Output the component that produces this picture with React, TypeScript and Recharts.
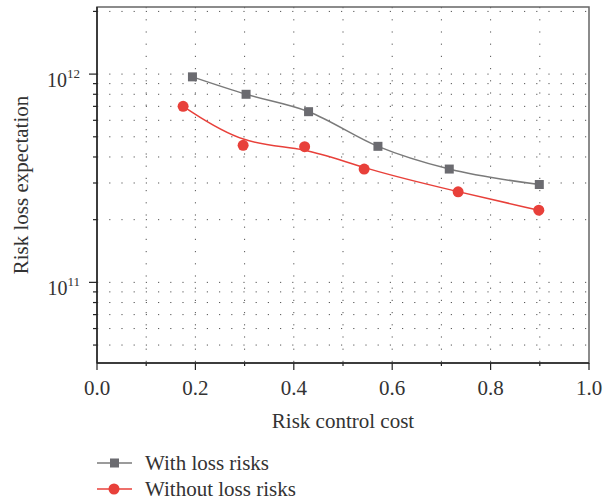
import React from "react";
import {
  LineChart,
  Line,
  XAxis,
  YAxis,
  CartesianGrid,
  Legend,
  ReferenceArea,
  Label,
} from "recharts";

const costWith = [0.194, 0.303, 0.43, 0.571, 0.716, 0.899];
const lossWith = [9.7e11, 8.0e11, 6.6e11, 4.5e11, 3.5e11, 2.95e11];
const costWithout = [0.175, 0.297, 0.422, 0.543, 0.734, 0.898];
const lossWithout = [7.0e11, 4.55e11, 4.48e11, 3.5e11, 2.72e11, 2.22e11];

const xTicks = [0, 0.1, 0.2, 0.3, 0.4, 0.5, 0.6, 0.7, 0.8, 0.9, 1.0];
const yTicks = [
  5e10, 6e10, 7e10, 8e10, 9e10, 1e11, 2e11, 3e11, 4e11, 5e11, 6e11, 7e11, 8e11,
  9e11, 1e12, 2e12,
];
const yDomain = [4.1e10, 2.1e12];

const withData = costWith.map((x, i) => ({ x, y: lossWith[i] }));
const withoutData = costWithout.map((x, i) => ({ x, y: lossWithout[i] }));

const FONT = "'Liberation Serif', 'Times New Roman', serif";
const GRAY = "#6b6b70";
const GRAY_LINE = "#7a7a7a";
const RED = "#e8403a";

const XTick = (props: any) => {
  const { x, y, payload } = props;
  const v = payload.value;
  const major = Math.abs(v * 5 - Math.round(v * 5)) < 1e-6;
  return (
    <g>
      <line x1={x} x2={x} y1={y} y2={y + (major ? 7 : 3)} stroke="#222" strokeWidth={1.2} />
      {major && (
        <text x={x} y={y + 32} textAnchor="middle" fontFamily={FONT} fontSize={21} fill="#333">
          {v.toFixed(1)}
        </text>
      )}
    </g>
  );
};

const YTick = (props: any) => {
  const { x, y, payload } = props;
  const v = payload.value;
  const exp = Math.log10(v);
  const major = Math.abs(exp - Math.round(exp)) < 1e-6;
  return (
    <g>
      <line x1={x} x2={x - (major ? 8 : 4)} y1={y} y2={y} stroke="#222" strokeWidth={1.2} />
      {major && (
        <text x={x - 17} y={y + 13} textAnchor="end" fontFamily={FONT} fontSize={20} fill="#333">
          10
          <tspan dy={-9} fontSize={13}>
            {Math.round(exp)}
          </tspan>
        </text>
      )}
    </g>
  );
};

const SquareDot = (props: any) => {
  const { cx, cy } = props;
  if (cx == null || cy == null) return null;
  return <rect x={cx - 4.5} y={cy - 4.5} width={9} height={9} fill={GRAY} />;
};

const CircleDot = (props: any) => {
  const { cx, cy } = props;
  if (cx == null || cy == null) return null;
  return <circle cx={cx} cy={cy} r={5.5} fill={RED} />;
};

const LegendBox = () => (
  <div style={{ fontFamily: FONT, fontSize: 21, color: "#333", paddingTop: 26 }}>
    <div style={{ display: "flex", alignItems: "center", height: 26 }}>
      <svg width={48} height={20}>
        <line x1={0} x2={35} y1={10} y2={10} stroke={GRAY_LINE} strokeWidth={1.5} />
        <rect x={13} y={5.5} width={9} height={9} fill={GRAY} />
      </svg>
      <span>With loss risks</span>
    </div>
    <div style={{ display: "flex", alignItems: "center", height: 26 }}>
      <svg width={48} height={20}>
        <line x1={0} x2={35} y1={10} y2={10} stroke={RED} strokeWidth={1.5} />
        <circle cx={17} cy={10} r={5.5} fill={RED} />
      </svg>
      <span>Without loss risks</span>
    </div>
  </div>
);

export default function App() {
  return (
    <div style={{ position: "absolute", left: 0, top: 0, background: "#fff" }}>
      <LineChart width={604} height={500} margin={{ top: 7, right: 15, left: 0, bottom: 0 }}>
        <CartesianGrid
          stroke="#555"
          strokeDasharray="1.2 11"
          strokeWidth={1}
          horizontalValues={yTicks}
          verticalValues={xTicks.slice(1, -1)}
        />
        <ReferenceArea
          x1={0}
          x2={1}
          y1={yDomain[0]}
          y2={yDomain[1]}
          fill="none"
          stroke="#666"
          strokeWidth={1.5}
          ifOverflow="visible"
        />
        <XAxis
          type="number"
          dataKey="x"
          domain={[0, 1]}
          ticks={xTicks}
          interval={0}
          height={61}
          tickSize={0}
          tickMargin={0}
          tickLine={false}
          tick={<XTick />}
          axisLine={{ stroke: "#222", strokeWidth: 1.5 }}
          allowDataOverflow
        >
          <Label
            value="Risk control cost"
            position="insideBottom"
            offset={-4}
            style={{ fontFamily: FONT, fontSize: 21, fill: "#333" }}
          />
        </XAxis>
        <YAxis
          type="number"
          dataKey="y"
          scale="log"
          domain={yDomain}
          ticks={yTicks}
          interval={0}
          width={97}
          tickSize={0}
          tickMargin={0}
          tickLine={false}
          tick={<YTick />}
          axisLine={{ stroke: "#222", strokeWidth: 1.5 }}
          allowDataOverflow
        >
          <Label
            value="Risk loss expectation"
            angle={-90}
            position="insideLeft"
            offset={21}
            style={{ fontFamily: FONT, fontSize: 21, fill: "#333", textAnchor: "middle" }}
          />
        </YAxis>
        <Legend
          verticalAlign="bottom"
          align="left"
          content={<LegendBox />}
          wrapperStyle={{ left: 97, height: 76, width: 300 }}
        />
        <Line
          data={withData}
          dataKey="y"
          name="With loss risks"
          type="monotone"
          stroke={GRAY_LINE}
          strokeWidth={1.5}
          dot={<SquareDot />}
          activeDot={false}
          isAnimationActive={false}
        />
        <Line
          data={withoutData}
          dataKey="y"
          name="Without loss risks"
          type="basis"
          stroke={RED}
          strokeWidth={1.5}
          dot={<CircleDot />}
          activeDot={false}
          isAnimationActive={false}
        />
      </LineChart>
    </div>
  );
}
